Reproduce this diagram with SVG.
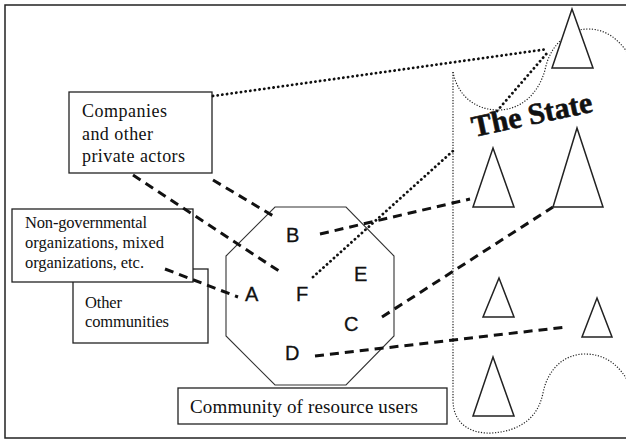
<svg xmlns="http://www.w3.org/2000/svg" width="626" height="440" viewBox="0 0 626 440">
<style>
.box{fill:#fff;stroke:#222;stroke-width:1.3}
.tri{fill:#fff;stroke:#222;stroke-width:1.5;stroke-linejoin:miter}
.oct{fill:#fff;stroke:#333;stroke-width:1.1}
.serif{font-family:"Liberation Serif","Times New Roman",serif;fill:#111}
.sans{font-family:"Liberation Sans",Arial,sans-serif;fill:#111;font-size:20px;stroke:#111;stroke-width:0.3}
.dash{fill:none;stroke:#111;stroke-width:3;stroke-dasharray:9 6}
.dot{fill:none;stroke:#111;stroke-width:2.8;stroke-linecap:round;stroke-dasharray:0.1 4.6}
.thin{fill:none;stroke:#222;stroke-width:1.2;stroke-dasharray:1.2 1.6}
</style>
<rect x="0" y="0" width="626" height="440" fill="#fff"/>
<rect x="5" y="5" width="640" height="433" fill="none" stroke="#222" stroke-width="1.5"/>

<g id="state-boundary">
<path class="thin" d="M453,72 V400 C453,425 472,434 492,433 C520,431 538,418 543,393 C548,368 565,354 585,354 C605,354 620,365 630,385"/>
<path class="thin" d="M453,72 C458,98 478,110 498,110 C520,110 538,95 545,70 C550,45 568,29 588,29 C605,29 618,38 630,56"/>
</g>

<g id="community">
<polygon class="oct" points="275,207 346,207 394,256 394,336 346,385 275,385 226,336 226,256"/>
<text class="sans" x="286" y="242">B</text>
<text class="sans" x="354" y="281">E</text>
<text class="sans" x="245" y="301">A</text>
<text class="sans" x="296" y="301">F</text>
<text class="sans" x="344" y="331">C</text>
<text class="sans" x="285" y="360">D</text>
</g>

<g id="other-communities">
<rect class="box" x="73" y="269" width="135" height="74"/>
<text class="serif" font-size="16.5" x="85" y="308" textLength="37" lengthAdjust="spacing">Other</text>
<text class="serif" font-size="16.5" x="85" y="327" textLength="84" lengthAdjust="spacing">communities</text>
</g>

<g id="ngo">
<rect class="box" x="12" y="209" width="181" height="73"/>
<text class="serif" font-size="16.5" x="25" y="228" textLength="122" lengthAdjust="spacing">Non-governmental</text>
<text class="serif" font-size="16.5" x="25" y="248" textLength="139" lengthAdjust="spacing">organizations, mixed</text>
<text class="serif" font-size="16.5" x="25" y="268" textLength="119" lengthAdjust="spacing">organizations, etc.</text>
</g>

<g id="companies">
<rect class="box" x="69" y="92" width="143" height="81"/>
<text class="serif" font-size="18" x="82" y="117" textLength="85" lengthAdjust="spacing">Companies</text>
<text class="serif" font-size="18" x="82" y="140" textLength="71" lengthAdjust="spacing">and other</text>
<text class="serif" font-size="18" x="82" y="162" textLength="103" lengthAdjust="spacing">private actors</text>
</g>

<g id="community-label">
<rect class="box" x="178" y="388" width="269" height="36"/>
<text class="serif" font-size="19" x="190" y="413" textLength="228" lengthAdjust="spacing">Community of resource users</text>
</g>

<g id="connectors">
<line class="dash" x1="133" y1="175" x2="282" y2="273"/>
<line class="dash" x1="213" y1="180" x2="275" y2="217"/>
<line class="dash" x1="165" y1="269" x2="238" y2="297"/>
<line class="dash" x1="320" y1="234" x2="470" y2="199"/>
<line class="dash" x1="382" y1="317" x2="553" y2="207"/>
<line class="dash" x1="315" y1="356" x2="566" y2="327"/>
<line class="dot" x1="213" y1="96" x2="548" y2="49"/>
<line class="dot" x1="313" y1="277" x2="454" y2="150"/>
<line class="dot" x1="497" y1="111" x2="548" y2="52"/>
</g>

<g id="state">
<polygon class="tri" points="572,9 593,68 552,68"/>
<polygon class="tri" points="577,128 603,207 553,207"/>
<polygon class="tri" points="493,148 514,207 473,207"/>
<polygon class="tri" points="499,278 514,317 483,317"/>
<polygon class="tri" points="597,298 612,337 582,337"/>
<polygon class="tri" points="493,357 514,416 473,416"/>
<text class="serif" font-size="30" font-weight="bold" stroke="#111" stroke-width="0.6" transform="translate(474,137) rotate(-12)">The State</text>
</g>
</svg>
